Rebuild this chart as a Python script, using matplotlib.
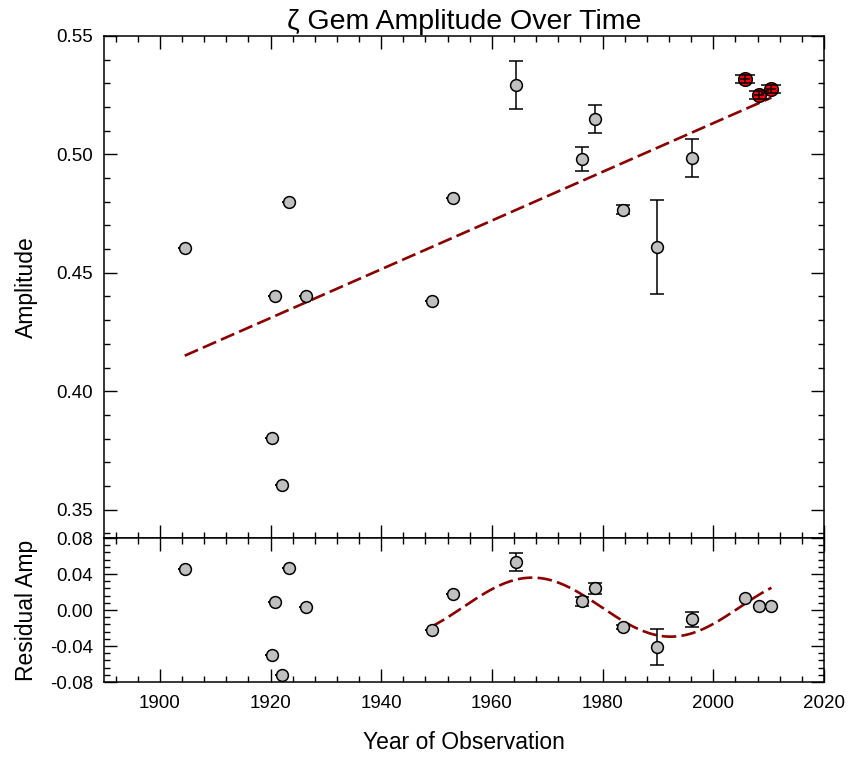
import numpy as np
import matplotlib
matplotlib.use("Agg")
import matplotlib.pyplot as plt
from matplotlib.ticker import MultipleLocator, FormatStrFormatter

plt.rcParams['font.family'] = ['Liberation Sans', 'DejaVu Sans']

# observations (gray = older, red = recent)
years = [1904.5, 1920.3, 1920.8, 1922.0, 1923.3, 1926.5, 1949.1, 1953.0,
         1964.4, 1976.2, 1978.6, 1983.7, 1989.9, 1996.2]
amplitude = [0.4605, 0.3803, 0.4403, 0.3604, 0.4800, 0.4403, 0.4380, 0.4814,
             0.5293, 0.4980, 0.5150, 0.4767, 0.4609, 0.4983]
amplitudeErr = [0, 0, 0, 0, 0, 0, 0, 0,
                0.010, 0.005, 0.006, 0.002, 0.020, 0.008]

recentYears = [2005.7, 2008.3, 2010.4]
recentAmplitude = [0.5318, 0.5251, 0.5276]
recentAmplitudeErr = [0.0018, 0.0018, 0.0018]
recentYearErr = [0.9, 0.9, 0.9]

residuals = [0.0456, -0.0504, 0.0089, -0.0719, 0.0463, 0.0033, -0.0222, 0.0174,
             0.0530, 0.0100, 0.0240, -0.0190, -0.0410, -0.0104]
recentResiduals = [0.0137, 0.0041, 0.0044]

# linear fit (end points) and sinusoidal fit to residuals
fitYears = [1904.5, 2010.5]
fitAmplitude = [0.415, 0.524]
sineStart, sineEnd = 1949.1, 2010.5
sineOffset, sineAmp, sinePeriod, sinePeak = 0.0032, 0.0328, 50.0, 1967.3

GRAY = "#c0c0c0"
FIT = "#8b0000"


def styleAxes(ax, yMajor, yMinor):
    ax.xaxis.set_major_locator(MultipleLocator(20))
    ax.xaxis.set_minor_locator(MultipleLocator(4))
    ax.yaxis.set_major_locator(MultipleLocator(yMajor))
    ax.yaxis.set_minor_locator(MultipleLocator(yMinor))
    ax.yaxis.set_major_formatter(FormatStrFormatter('%.2f'))
    ax.tick_params(which='both', direction='in', top=True, right=True, width=1.0, labelsize=13.5)
    ax.tick_params(which='major', length=9.5)
    ax.tick_params(which='minor', length=4.5)
    ax.tick_params(axis='y', pad=8)
    ax.tick_params(axis='x', pad=9)
    for s in ax.spines.values():
        s.set_linewidth(1.1)


fig = plt.figure(figsize=(8.48, 7.61), dpi=100)
axTop = fig.add_axes([0.1232, 0.2930, 0.8485, 0.6597])
axBot = fig.add_axes([0.1232, 0.1038, 0.8485, 0.1892])

# top panel
axTop.plot(fitYears, fitAmplitude, color=FIT, lw=1.9, dashes=(5.5, 2.0), zorder=2)
axTop.errorbar(years, amplitude, yerr=amplitudeErr, fmt='o', ms=8.5, mfc=GRAY, mec='black',
               mew=1.1, ecolor='black', elinewidth=1.1, capsize=5, capthick=1.1, zorder=3)
axTop.plot(recentYears, recentAmplitude, 'o', ms=9.8, mfc='red', mec='black', mew=1.1, zorder=4)
axTop.errorbar(recentYears, recentAmplitude, yerr=recentAmplitudeErr, fmt='none',
               ecolor='black', elinewidth=1.1, capsize=7, capthick=1.1, zorder=5)
axTop.errorbar(recentYears, recentAmplitude, xerr=recentYearErr, fmt='none',
               ecolor='black', elinewidth=1.1, capsize=0, zorder=5)
axTop.set_xlim(1890, 2020)
axTop.set_ylim(0.338, 0.55)
styleAxes(axTop, 0.05, 0.01)
axTop.tick_params(labelbottom=False)
axTop.set_ylabel("Amplitude", fontsize=16.5)
axTop.set_title("\u03b6 Gem Amplitude Over Time", fontsize=20.5, pad=5)

# residual panel
sineX = np.linspace(sineStart, sineEnd, 200)
sineY = sineOffset + sineAmp * np.cos(2 * np.pi * (sineX - sinePeak) / sinePeriod)
axBot.plot(sineX, sineY, color=FIT, lw=1.9, dashes=(5.5, 2.0), zorder=2)
axBot.errorbar(years, residuals, yerr=amplitudeErr, fmt='o', ms=8.5, mfc=GRAY, mec='black',
               mew=1.1, ecolor='black', elinewidth=1.1, capsize=5, capthick=1.1, zorder=3)
axBot.plot(recentYears, recentResiduals, 'o', ms=8.5, mfc=GRAY, mec='black', mew=1.1, zorder=3)
axBot.set_xlim(1890, 2020)
axBot.set_ylim(-0.08, 0.08)
styleAxes(axBot, 0.04, 0.008)
axBot.set_ylabel("Residual Amp", fontsize=16.5)
axBot.set_xlabel("Year of Observation", fontsize=16.5, labelpad=14)

# line both y labels up
axTop.yaxis.set_label_coords(-0.093, 0.5)
axBot.yaxis.set_label_coords(-0.093, 0.5)

fig.savefig("out.png", dpi=100)
